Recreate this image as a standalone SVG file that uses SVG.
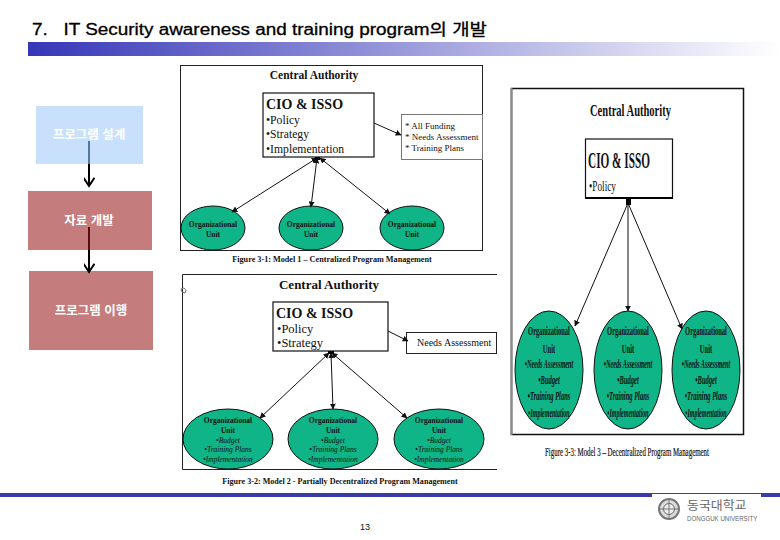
<svg xmlns="http://www.w3.org/2000/svg" width="780" height="540" viewBox="0 0 780 540">
<style>
text{font-family:"Liberation Serif","Noto Sans CJK KR",serif;fill:#111}
.kr{font-family:"Liberation Sans","Noto Sans CJK KR",sans-serif;fill:#fff;font-size:12.500px;font-weight:700;text-anchor:middle}
.frame{fill:#fff;stroke:#222;stroke-width:1}
.box{fill:#fff;stroke:#111;stroke-width:1.2}
.side{fill:#fff;stroke:#777;stroke-width:1}
.oval{fill:#0fb487;stroke:#111;stroke-width:1}
.b{font-weight:700}
.m{text-anchor:middle}
.conn{fill:none;stroke:#111;stroke-width:1}
.thick{fill:none;stroke:#000;stroke-width:2}
.t3{font-size:13px;font-weight:700;text-anchor:middle}
.i{font-style:italic}
</style>
<defs>
<linearGradient id="bar" x1="0" x2="1" y1="0" y2="0"><stop offset="0" stop-color="#3636b8"/><stop offset="1" stop-color="#fff"/></linearGradient>
<marker id="a" viewBox="0 0 10 10" refX="9" refY="5" markerWidth="6" markerHeight="6" orient="auto-start-reverse"><path d="M0 0L10 5L0 10Z" fill="#111"/></marker>
<marker id="big" viewBox="0 0 12 12" refX="10" refY="6" markerWidth="11" markerHeight="11" markerUnits="userSpaceOnUse" orient="auto"><path d="M1 0L10 6L1 12" fill="none" stroke="#000" stroke-width="2.2"/></marker>
</defs>
<rect width="780" height="540" fill="#fff"/>

<g id="title">
<text x="32" y="35" font-size="16" textLength="455" lengthAdjust="spacingAndGlyphs" stroke="#000" stroke-width="0.3" style="font-family:'Liberation Sans','Noto Sans CJK KR',sans-serif;fill:#000">7.&#160;&#160;&#160;IT Security awareness and training program의 개발</text>
<rect x="28" y="42" width="752" height="14" fill="url(#bar)"/>
</g>

<g id="step-design"><rect x="36" y="106" width="107" height="58" fill="#c8e0fb"/><text x="89" y="139" class="kr">프로그램 설계</text></g>
<g id="step-develop"><rect x="28" y="191" width="124" height="59" fill="#c47c7c"/><text x="89" y="225" class="kr">자료 개발</text></g>
<g id="step-run"><rect x="29" y="271" width="124" height="79" fill="#c47c7c"/><text x="91" y="315" class="kr">프로그램 이행</text></g>

<g id="model1-frame">
<rect class="frame" x="180.500" y="65.500" width="302" height="185"/>
<text x="314" y="79" font-size="11.500" class="b m">Central Authority</text>
<text x="332" y="262" font-size="8.200" class="b m">Figure 3-1: Model 1 – Centralized Program Management</text>
</g>
<g id="model1-cio">
<rect class="box" x="263" y="93" width="111" height="64"/>
<text x="266" y="109" font-size="14" class="b">CIO &amp; ISSO</text>
<text x="266" y="124" font-size="11.700">•Policy</text>
<text x="266" y="138" font-size="11.700">•Strategy</text>
<text x="266" y="153" font-size="11.700">•Implementation</text>
</g>
<g id="model1-side">
<rect class="side" x="401.500" y="114.500" width="81" height="45"/>
<g font-size="9"><text x="405" y="129">* All Funding</text><text x="405" y="140">* Needs Assessment</text><text x="405" y="151">* Training Plans</text></g>
</g>
<g id="model1-unit1"><ellipse class="oval" cx="213" cy="228" rx="32" ry="22"/><text x="213" y="227" font-size="7.500" class="b m">Organizational</text><text x="213" y="237" font-size="7.500" class="b m">Unit</text></g>
<g id="model1-unit2"><ellipse class="oval" cx="311" cy="228" rx="32" ry="22"/><text x="311" y="227" font-size="7.500" class="b m">Organizational</text><text x="311" y="237" font-size="7.500" class="b m">Unit</text></g>
<g id="model1-unit3"><ellipse class="oval" cx="412" cy="228" rx="32" ry="22"/><text x="412" y="227" font-size="7.500" class="b m">Organizational</text><text x="412" y="237" font-size="7.500" class="b m">Unit</text></g>

<g id="model2-frame">
<path class="frame" style="fill:none" d="M497 274.500H182.500V469.500H497"/>
<path d="M181 289l3-1 2 2-1 3-3-1z" fill="none" stroke="#777" stroke-width="1"/>
<text x="329" y="289" font-size="13" class="b m">Central Authority</text>
<text x="340" y="484" font-size="8.100" class="b m">Figure 3-2: Model 2 - Partially Decentralized Program Management</text>
</g>
<g id="model2-cio">
<rect class="box" x="273" y="302" width="115" height="49"/>
<text x="276" y="318" font-size="14" class="b">CIO &amp; ISSO</text>
<text x="277" y="333" font-size="12.500">•Policy</text>
<text x="277" y="347" font-size="12.500">•Strategy</text>
</g>
<g id="model2-side"><rect x="406.500" y="332.500" width="90" height="21" fill="#fff" stroke="#222"/><text x="417" y="346" font-size="10">Needs Assessment</text></g>
<g id="model2-unit1"><ellipse class="oval" cx="228" cy="439" rx="45" ry="30"/><g font-size="7.500"><text x="228" y="423" class="m b">Organizational</text><text x="228" y="433" class="m b">Unit</text><g font-style="italic"><text x="228" y="443" class="m">•Budget</text><text x="228" y="452" class="m">•Training Plans</text><text x="228" y="462" class="m">•Implementation</text></g></g></g>
<g id="model2-unit2"><ellipse class="oval" cx="333" cy="439" rx="45" ry="30"/><g font-size="7.500"><text x="333" y="423" class="m b">Organizational</text><text x="333" y="433" class="m b">Unit</text><g font-style="italic"><text x="333" y="443" class="m">•Budget</text><text x="333" y="452" class="m">•Training Plans</text><text x="333" y="462" class="m">•Implementation</text></g></g></g>
<g id="model2-unit3"><ellipse class="oval" cx="439" cy="439" rx="45" ry="30"/><g font-size="7.500"><text x="439" y="423" class="m b">Organizational</text><text x="439" y="433" class="m b">Unit</text><g font-style="italic"><text x="439" y="443" class="m">•Budget</text><text x="439" y="452" class="m">•Training Plans</text><text x="439" y="462" class="m">•Implementation</text></g></g></g>

<g id="model3-frame">
<rect x="511.500" y="88.500" width="232" height="346" fill="#fff" stroke="#111" stroke-width="1.500"/>
<path d="M511.500 88V435" stroke="#888" stroke-width="2" fill="none"/>
<text transform="translate(590 116) scale(.62 1)" font-size="17" class="b">Central Authority</text>
<text transform="translate(545 456) scale(.6 1)" font-size="11.500" stroke="#111" stroke-width="0.2">Figure 3-3: Model 3 – Decentralized Program Management</text>
</g>
<g id="model3-cio">
<rect class="box" x="585.500" y="139" width="87" height="59"/>
<path d="M585 198H673" stroke="#000" stroke-width="2"/>
<text transform="translate(588 168) scale(.49 1)" font-size="23" class="b">CIO &amp; ISSO</text>
<text transform="translate(589 191) scale(.62 1)" font-size="15">•Policy</text>
</g>
<g id="model3-unit1"><ellipse class="oval" cx="549" cy="370" rx="34" ry="59"/>
<text transform="translate(549 335) scale(.5 1)" class="t3">Organizational</text><text transform="translate(549 353) scale(.5 1)" class="t3">Unit</text><text transform="translate(549 368) scale(.48 1)" class="t3 i">•Needs Assessment</text><text transform="translate(549 384) scale(.5 1)" class="t3 i">•Budget</text><text transform="translate(549 400) scale(.5 1)" class="t3 i">•Training Plans</text><text transform="translate(549 417) scale(.46 1)" class="t3 i">•Implementation</text></g>
<g id="model3-unit2"><ellipse class="oval" cx="628" cy="370" rx="34" ry="59"/>
<text transform="translate(628 335) scale(.5 1)" class="t3">Organizational</text><text transform="translate(628 353) scale(.5 1)" class="t3">Unit</text><text transform="translate(628 368) scale(.48 1)" class="t3 i">•Needs Assessment</text><text transform="translate(628 384) scale(.5 1)" class="t3 i">•Budget</text><text transform="translate(628 400) scale(.5 1)" class="t3 i">•Training Plans</text><text transform="translate(628 417) scale(.46 1)" class="t3 i">•Implementation</text></g>
<g id="model3-unit3"><ellipse class="oval" cx="706" cy="370" rx="34" ry="59"/>
<text transform="translate(706 335) scale(.5 1)" class="t3">Organizational</text><text transform="translate(706 353) scale(.5 1)" class="t3">Unit</text><text transform="translate(706 368) scale(.48 1)" class="t3 i">•Needs Assessment</text><text transform="translate(706 384) scale(.5 1)" class="t3 i">•Budget</text><text transform="translate(706 400) scale(.5 1)" class="t3 i">•Training Plans</text><text transform="translate(706 417) scale(.46 1)" class="t3 i">•Implementation</text></g>

<g id="connectors">
<path class="thick" d="M89 164V186" marker-end="url(#big)"/>
<path d="M89 141V164" fill="none" stroke="#55779a" stroke-width="2"/>
<path class="thick" d="M89 250V272" marker-end="url(#big)"/>
<path d="M89 227V250" fill="none" stroke="#5a0a10" stroke-width="2"/>
<path class="conn" d="M374 123L401 135" marker-end="url(#a)"/>
<path class="conn" d="M317 158L232 212" marker-start="url(#a)" marker-end="url(#a)"/>
<path class="conn" d="M317 158L311 207" marker-start="url(#a)" marker-end="url(#a)"/>
<path class="conn" d="M320 158L390 214" marker-start="url(#a)" marker-end="url(#a)"/>
<path class="conn" d="M388 331L408 341" marker-end="url(#a)"/>
<path class="conn" d="M329 353L260 418" marker-start="url(#a)" marker-end="url(#a)"/>
<path class="conn" d="M331 353L333 409" marker-start="url(#a)" marker-end="url(#a)"/>
<path class="conn" d="M332 353L407 418" marker-start="url(#a)" marker-end="url(#a)"/>
<path class="conn" d="M628 203L575 326" marker-end="url(#a)"/>
<path class="conn" d="M628 203V311" marker-end="url(#a)" stroke="#555"/>
<path class="conn" d="M628 203L682 329" marker-end="url(#a)"/>
<rect x="626" y="198" width="5" height="7" fill="#000"/>
<rect x="315" y="157" width="5" height="3" fill="#000"/>
<rect x="328" y="351" width="6" height="3" fill="#000"/>
</g>

<g id="footer">
<rect x="0" y="493" width="780" height="4" fill="#3a3aa8"/>
<rect x="652" y="494" width="109" height="3" fill="#fff"/>
<text x="365" y="530" font-size="9" class="m" style="font-family:'Liberation Sans',sans-serif">13</text>
</g>
<g id="logo">
<circle cx="669" cy="509" r="10" fill="#ddd" stroke="#777" stroke-width="2"/>
<circle cx="669" cy="509" r="5.500" fill="#eee" stroke="#666"/>
<path d="M659 509H679M669 499V519" stroke="#777"/>
<text transform="translate(687 510) scale(1.08 1)" font-size="12" style="font-family:'Noto Sans CJK KR',sans-serif;fill:#666">동국대학교</text>
<text transform="translate(687 521) scale(.82 1)" font-size="7.500" style="font-family:'Liberation Sans',sans-serif;fill:#666">DONGGUK UNIVERSITY</text>
</g>
</svg>
